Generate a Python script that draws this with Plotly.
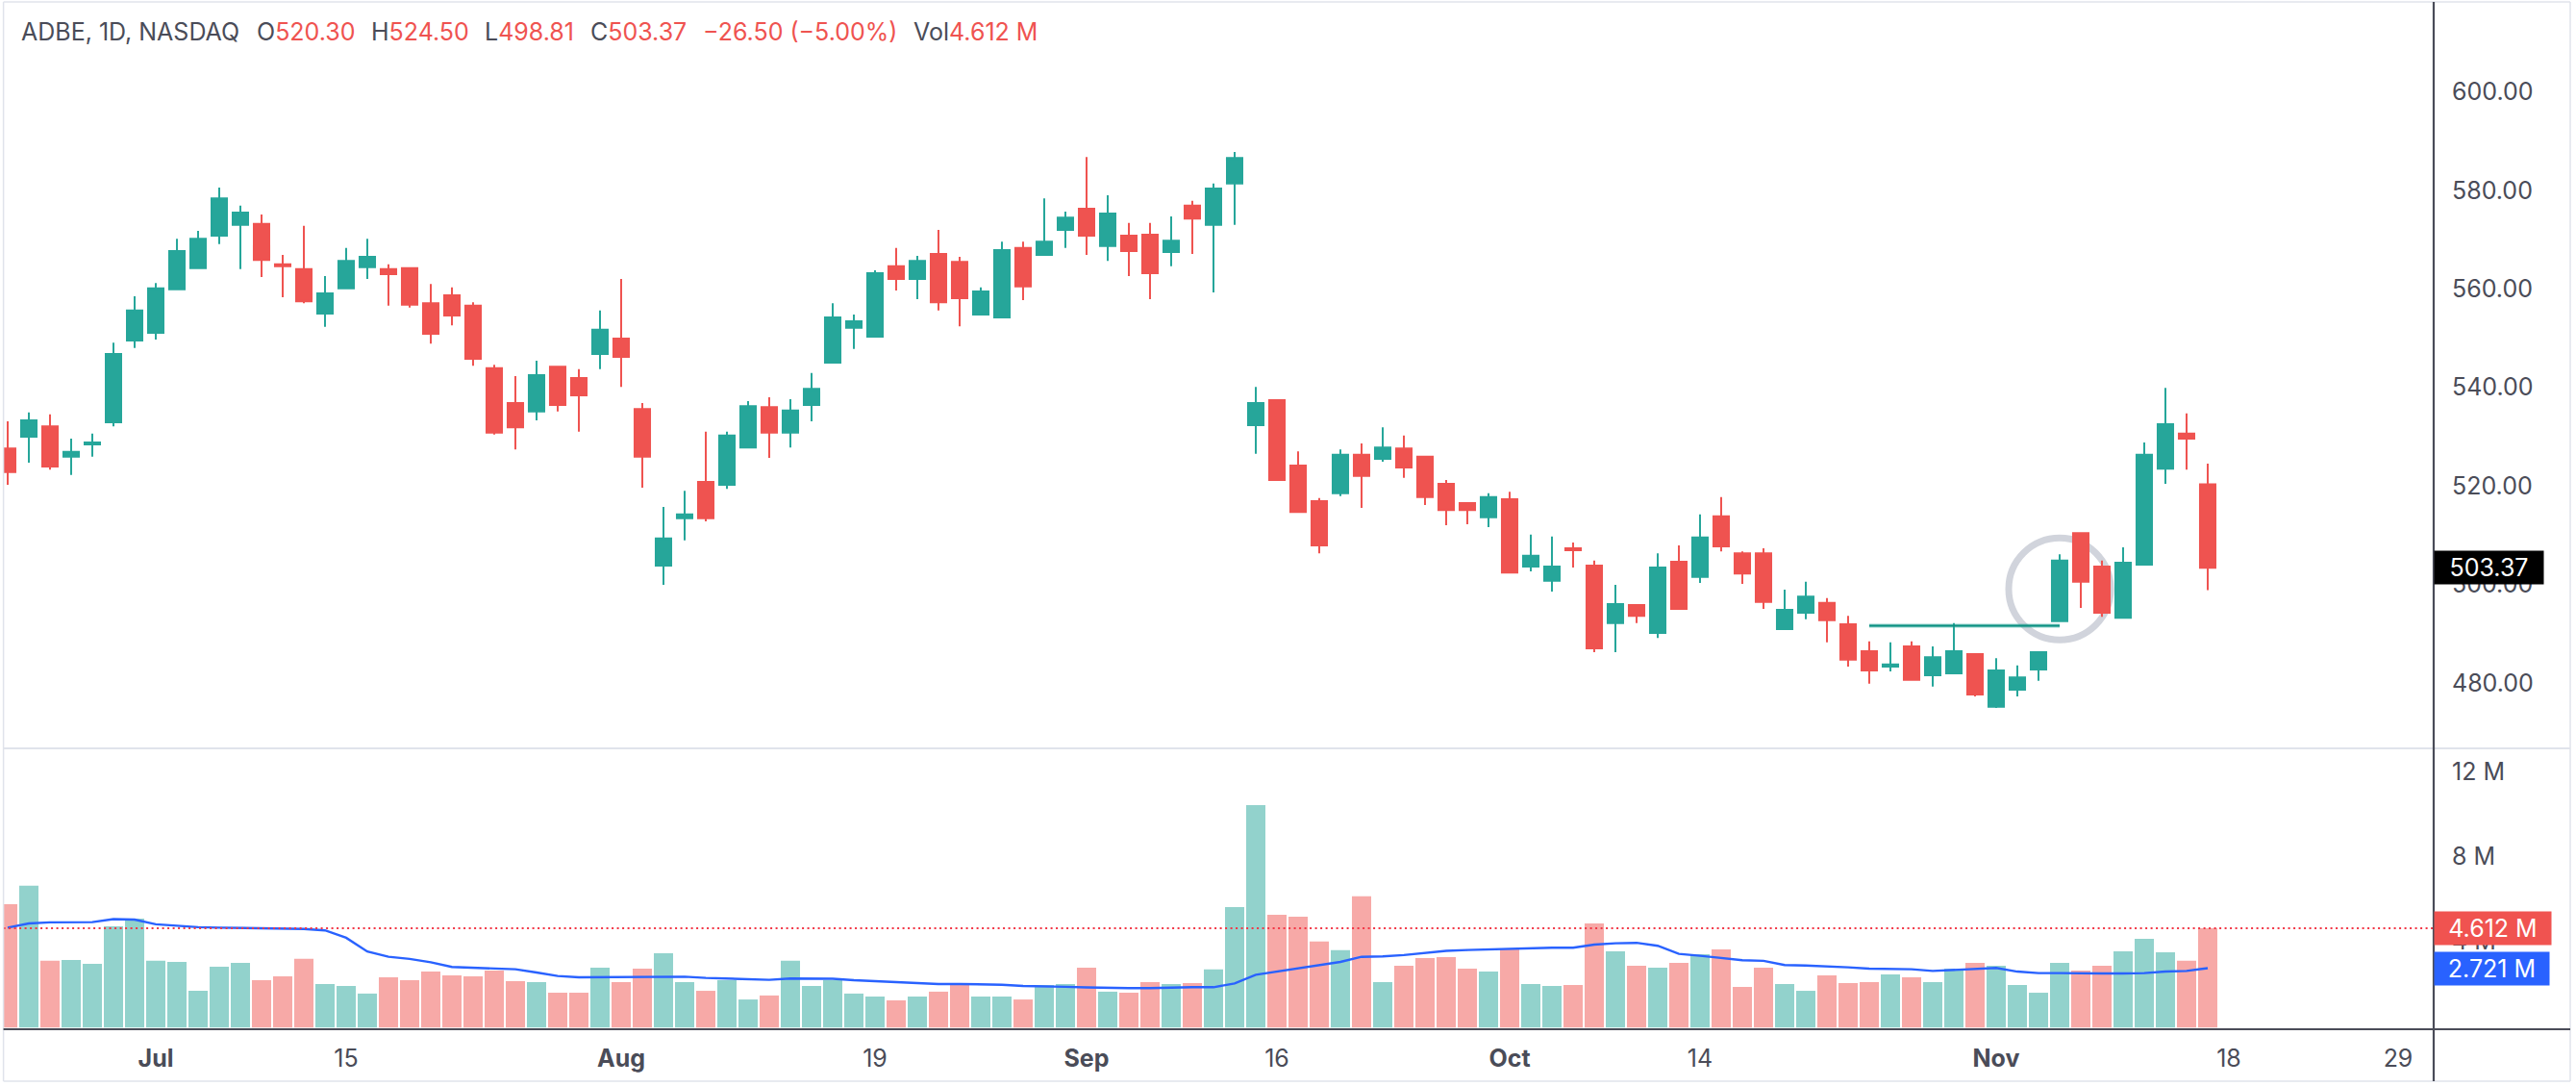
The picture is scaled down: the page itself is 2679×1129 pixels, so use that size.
import pandas as pd
import plotly.graph_objects as go

W, H = 2679, 1129

holidays = {"2024-07-04", "2024-09-02", "2024-11-28"}
dates = [d.strftime("%Y-%m-%d") for d in pd.bdate_range("2024-06-20", "2024-11-29")
         if d.strftime("%Y-%m-%d") not in holidays]

opens = [527.6,530.0,532.1,525.9,528.4,532.9,549.5,551.1,559.9,564.2,
         570.8,573.0,573.2,565.0,564.0,555.0,560.1,564.4,564.0,564.2,
         557.1,558.7,556.6,543.9,536.8,535.1,544.2,541.9,546.8,549.9,
         535.6,503.8,513.4,520.8,520.2,527.8,536.0,530.8,536.4,545.0,
         552.1,550.3,564.6,562.0,567.1,565.5,554.8,554.2,568.3,566.9,
         572.0,576.3,568.7,570.8,571.0,567.5,576.9,573.0,581.4,532.3,
         537.4,524.1,516.9,518.5,526.3,525.5,527.6,525.9,520.4,516.5,
         513.6,517.3,503.6,500.7,507.3,503.8,492.1,495.8,490.1,504.6,
         501.5,513.8,506.3,506.3,490.9,494.2,496.2,491.9,486.4,483.3,
         487.4,481.5,481.9,485.8,475.1,478.6,482.7,492.5,510.4,503.6,
         493.2,504.0,523.5,530.6,520.30]
highs = [533.1,534.9,534.5,529.6,530.6,549.1,558.5,561.2,570.2,571.8,
         580.6,576.9,575.1,566.9,572.8,562.6,568.3,570.2,565.0,564.4,
         561.0,560.3,557.3,544.6,542.3,545.4,544.2,543.7,555.6,562.0,
         536.8,515.7,519.0,531.0,531.0,537.2,538.0,537.6,542.9,557.1,
         554.8,563.8,568.3,566.7,572.0,566.5,560.3,569.6,569.6,578.4,
         575.7,586.8,579.0,573.4,573.4,574.7,577.9,581.4,587.8,540.1,
         537.6,527.0,517.5,527.4,528.6,531.9,530.2,526.1,521.2,516.5,
         518.5,518.8,510.1,509.7,508.5,504.8,499.9,495.8,506.3,507.9,
         514.2,517.7,506.7,507.3,498.9,500.5,497.2,493.6,488.4,488.2,
         488.4,487.4,492.1,485.8,485.0,483.5,486.4,506.1,510.4,504.8,
         507.5,528.8,539.9,534.7,524.50]
lows = [520.2,524.7,523.3,522.2,525.9,532.1,548.0,549.7,559.9,564.0,
        569.1,564.0,562.4,558.3,557.1,552.3,560.1,562.0,556.6,556.2,
        548.9,552.6,544.4,530.4,527.4,533.3,535.1,531.0,543.7,540.1,
        519.6,499.9,508.9,512.8,519.4,527.8,525.7,527.8,533.1,545.0,
        547.8,550.3,559.7,557.9,555.6,552.4,554.8,554.2,557.7,566.9,
        568.3,566.9,565.7,562.6,557.9,564.6,567.1,559.3,573.0,526.5,
        521.2,514.5,506.3,517.9,515.5,524.9,521.6,516.1,512.0,512.2,
        511.6,502.4,502.6,498.5,503.4,486.2,486.2,492.1,489.1,494.8,
        500.3,506.7,500.1,495.0,490.9,492.9,488.2,483.3,479.8,482.3,
        480.4,479.2,481.9,477.2,474.9,477.2,480.4,492.5,495.2,493.4,
        493.2,504.0,520.4,523.3,498.81]
closes = [522.8,533.3,523.9,526.9,528.8,546.8,555.6,560.1,567.7,570.2,
          578.4,575.5,565.9,564.6,557.5,559.1,565.7,566.5,563.0,556.8,
          550.9,554.6,545.8,530.8,531.9,542.5,536.4,538.4,551.7,546.2,
          525.9,509.3,514.2,513.4,530.2,536.2,530.8,535.3,539.7,554.2,
          553.4,563.2,562.0,565.7,557.3,558.1,559.5,567.9,560.5,569.6,
          574.5,570.8,575.3,567.7,563.2,569.8,574.3,580.4,586.6,536.8,
          521.2,514.7,507.9,526.3,522.0,527.8,523.7,517.7,515.1,515.1,
          517.7,502.4,505.8,503.6,506.9,487.0,496.0,493.6,503.4,495.0,
          509.5,507.7,502.2,496.4,494.8,497.5,492.7,484.7,482.5,483.7,
          480.6,485.2,486.4,477.6,482.5,481.1,486.2,504.8,500.5,494.2,
          504.4,526.3,532.5,529.6,503.37]
volumes = [5.75,6.62,3.07,3.11,2.93,4.70,5.07,3.07,3.02,1.65,
           2.79,2.97,2.15,2.34,3.16,1.97,1.88,1.52,2.29,2.15,
           2.56,2.38,2.34,2.61,2.11,2.06,1.56,1.56,2.75,2.06,
           2.70,3.43,2.06,1.65,2.15,1.24,1.43,3.07,1.88,2.15,
           1.52,1.38,1.20,1.38,1.61,1.97,1.38,1.38,1.24,1.93,
           1.97,2.75,1.61,1.56,2.06,1.97,2.02,2.66,5.61,10.44,
           5.25,5.16,3.98,3.57,6.12,2.06,2.84,3.20,3.25,2.70,
           2.56,3.66,1.97,1.88,1.93,4.84,3.52,2.84,2.75,2.97,
           3.38,3.61,1.84,2.75,1.97,1.65,2.38,2.02,2.06,2.43,
           2.29,2.06,2.70,2.97,2.84,1.93,1.56,2.97,2.61,2.84,
           3.52,4.11,3.47,3.07,4.612]
volume_ma = [4.64,4.84,4.89,4.89,4.90,5.04,5.02,4.80,4.73,4.66,
             4.64,4.63,4.61,4.58,4.58,4.51,4.16,3.51,3.26,3.16,
             3.00,2.78,2.75,2.73,2.67,2.52,2.35,2.29,2.29,2.29,
             2.29,2.32,2.32,2.26,2.22,2.19,2.17,2.23,2.23,2.22,
             2.15,2.11,2.06,2.00,1.97,1.97,1.96,1.94,1.88,1.87,
             1.84,1.81,1.78,1.78,1.78,1.81,1.82,1.82,2.00,2.41,
             2.56,2.73,2.88,3.02,3.26,3.28,3.34,3.43,3.54,3.58,
             3.61,3.66,3.67,3.69,3.69,3.84,3.90,3.92,3.78,3.40,
             3.31,3.20,3.10,3.07,2.87,2.85,2.82,2.76,2.70,2.70,
             2.67,2.59,2.64,2.69,2.73,2.56,2.49,2.49,2.47,2.47,
             2.47,2.49,2.56,2.59,2.721]

x_tick_dates = ["2024-07-01","2024-07-15","2024-08-01","2024-08-19","2024-09-03",
                "2024-09-16","2024-10-01","2024-10-14","2024-11-01","2024-11-18","2024-11-29"]
x_tick_text = ["<b>Jul</b>","15","<b>Aug</b>","19","<b>Sep</b>","16","<b>Oct</b>","14","<b>Nov</b>","18","29"]
price_ticks = [480, 500, 520, 540, 560, 580, 600]
price_tick_text = ["480.00","500.00","520.00","540.00","560.00","580.00","600.00"]
vol_ticks = [4, 8, 12]
vol_tick_text = ["4 M", "8 M", "12 M"]
level_value = 491.6
level_start, level_end = "2024-10-24", "2024-11-06"
ring_date, ring_price = "2024-11-06", 499.05

GREEN, RED = "#26a69a", "#ef5350"
GREEN_L, RED_L = "#92d2cc", "#f7a9a7"
INK = "#4a4c58"
BORDER = "#e0e3eb"
FONT = "Inter, Roboto, sans-serif"
FS = 25

n = len(closes)
bar_colors = [RED_L if c < o else GREEN_L for o, c in zip(opens, closes)]

fig = go.Figure()
fig.add_trace(go.Candlestick(
    x=dates[:n], open=opens, high=highs, low=lows, close=closes,
    increasing=dict(line=dict(color=GREEN, width=2), fillcolor=GREEN),
    decreasing=dict(line=dict(color=RED, width=2), fillcolor=RED),
    xaxis="x", yaxis="y", showlegend=False))
fig.add_trace(go.Scatter(x=[level_start, level_end], y=[level_value, level_value], mode="lines",
                         line=dict(color="rgba(38,166,154,0.5)", width=4), xaxis="x", yaxis="y",
                         showlegend=False, hoverinfo="skip"))
fig.add_trace(go.Scatter(x=[level_start, level_end], y=[level_value, level_value], mode="lines",
                         line=dict(color="#0b8f80", width=2), xaxis="x", yaxis="y",
                         showlegend=False, hoverinfo="skip"))
fig.add_trace(go.Bar(x=dates[:n], y=[v + 0.09 for v in volumes], base=-0.09,
                     marker=dict(color=bar_colors, line=dict(width=0)),
                     xaxis="x2", yaxis="y2", showlegend=False))
fig.add_trace(go.Scatter(x=dates[:n], y=volume_ma, mode="lines",
                         line=dict(color="#2962ff", width=2.4),
                         xaxis="x2", yaxis="y2", showlegend=False))

x_left, x_right, x_edge = 3.6, 2531, 2673
x_range = [(x_left - 8) / 22.0, (x_right - 8) / 22.0]
common_x = dict(type="category", categoryorder="array", categoryarray=dates, range=x_range,
                domain=[x_left / W, x_right / W], showgrid=False, zeroline=False, fixedrange=True)

pane_top, pane_mid, pane_vol_bottom = 3, 778, 1070
price_range = [540 - (pane_mid - 402.7) / 5.118, 540 + (402.7 - pane_top) / 5.118]
vol_range = [-(pane_vol_bottom - 1066.3) / 21.97, (1066.3 - (pane_mid + 1)) / 21.97]

axis_font = dict(family=FONT, size=FS, color=INK)
fig.update_layout(
    width=W, height=H, autosize=False,
    margin=dict(l=0, r=0, t=0, b=0, pad=0),
    paper_bgcolor="white", plot_bgcolor="white",
    font=dict(family=FONT, size=FS, color=INK),
    showlegend=False, boxgap=0.27, boxgroupgap=0, bargap=0.09, barmode="overlay", dragmode=False,
    xaxis=dict(**common_x, anchor="y", showticklabels=False, rangeslider=dict(visible=False)),
    xaxis2=dict(**common_x, anchor="y2", tickmode="array", tickvals=x_tick_dates, ticktext=x_tick_text,
                tickfont=axis_font, ticks="", ticklabelstandoff=13, tickangle=0),
    yaxis=dict(domain=[1 - pane_mid / H, 1 - pane_top / H], range=price_range, side="right", anchor="x",
               tickmode="array", tickvals=price_ticks, ticktext=price_tick_text, tickfont=axis_font,
               ticks="", ticklabelstandoff=18, showgrid=False, zeroline=False, fixedrange=True),
    yaxis2=dict(domain=[1 - pane_vol_bottom / H, 1 - (pane_mid + 1) / H], range=vol_range, side="right",
                anchor="x2", tickmode="array", tickvals=vol_ticks, ticktext=vol_tick_text, tickfont=axis_font,
                ticks="", ticklabelstandoff=18, showgrid=False, zeroline=False, fixedrange=True),
)


def frame(x0, y0, x1, y1, color, width):
    return dict(type="line", xref="paper", yref="paper", x0=x0 / W, x1=x1 / W,
                y0=1 - y0 / H, y1=1 - y1 / H, line=dict(color=color, width=width), layer="above")


fig.update_layout(shapes=[
    dict(type="circle", xref="x", yref="y", xsizemode="pixel", ysizemode="pixel",
         xanchor=ring_date, yanchor=ring_price, x0=-53, x1=53, y0=-53, y1=53,
         line=dict(color="#d1d4dc", width=7), layer="below"),
    dict(type="line", xref="x2 domain", yref="y2", x0=0, x1=1, y0=volumes[-1], y1=volumes[-1],
         line=dict(color="#f23645", width=2, dash="2px,3.5px"), layer="above"),
    frame(x_left, 2, x_left, 1124, BORDER, 1.5),
    frame(x_edge, 2, x_edge, 1124, BORDER, 1.5),
    frame(x_left, 2, x_edge, 2, BORDER, 1.5),
    frame(x_left, 1124, x_edge, 1124, BORDER, 1.5),
    frame(x_left, 778, x_edge, 778, BORDER, 2),
    frame(x_left, 1070, x_edge, 1070, INK, 2.2),
    frame(x_right, 2, x_right, 1124, INK, 2.2),
])


def tag(text, y, yref, color, width):
    return dict(text=text, x=x_right / W, xref="paper", y=y, yref=yref, xanchor="left", yanchor="middle",
                showarrow=False, bgcolor=color, width=width, height=34, align="center", borderpad=0,
                font=dict(family=FONT, size=FS, color="white"))


def head(text, x_px):
    return dict(text=text, x=x_px / W, xref="paper", y=1 - 33 / H, yref="paper", xanchor="left",
                yanchor="middle", showarrow=False, font=dict(family=FONT, size=FS, color=INK))


red = lambda s: f'<span style="color:{RED}">{s}</span>'
fig.update_layout(annotations=[
    head("ADBE, 1D, NASDAQ", 20),
    head("O" + red("520.30"), 265),
    head("H" + red("524.50"), 384),
    head("L" + red("498.81"), 502),
    head("C" + red("503.37"), 612),
    head(red("−26.50 (−5.00%)"), 729),
    head("Vol" + red("4.612 M"), 948),
    tag(f"{closes[-1]:.2f}", closes[-1], "y", "#000000", 113),
    tag(f"{volumes[-1]:.3f} M", volumes[-1], "y2", "#f05350", 121),
    tag(f"{volume_ma[-1]:.3f} M", volume_ma[-1], "y2", "#2962ff", 119),
])

fig.write_html("out.html", config=dict(displayModeBar=False, responsive=False),
               post_script="document.body.style.margin='0';")
